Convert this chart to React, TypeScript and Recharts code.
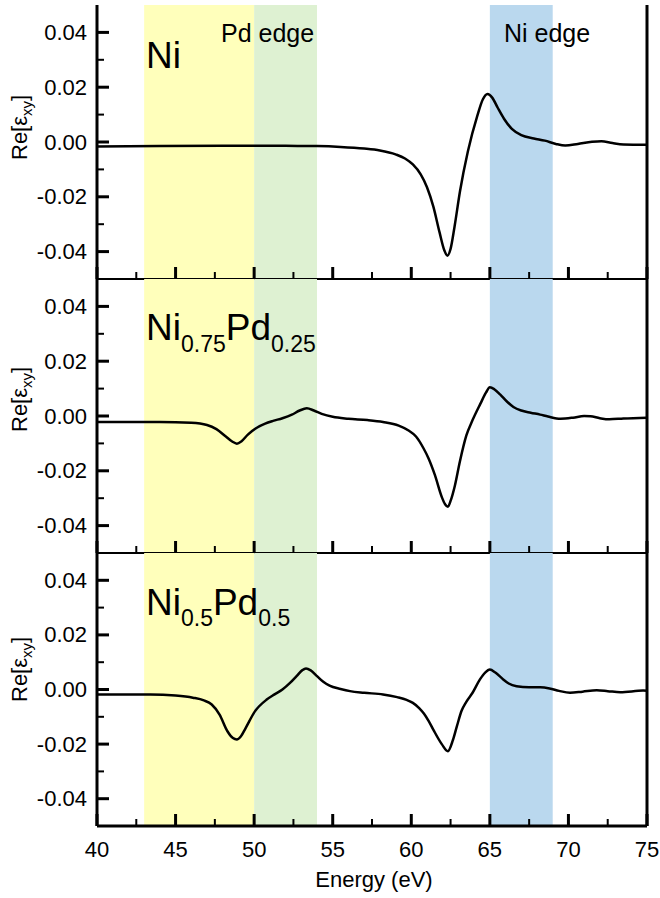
import { LineChart, Line, XAxis, YAxis, ReferenceArea } from 'recharts'

// Re[eps_xy] vs photon energy (eV)
const niPoints: [number, number][] = [
  [40, -0.0016], [44, -0.0015], [48, -0.0014], [52, -0.0014], [54, -0.0015], [55.5, -0.0018],
  [57, -0.0024], [58, -0.0031], [59, -0.0045], [59.6, -0.006], [60.1, -0.0082], [60.6, -0.0118],
  [61, -0.0165], [61.4, -0.0235], [61.8, -0.033], [62.1, -0.0395], [62.3, -0.0415], [62.5, -0.039],
  [62.75, -0.031], [63.1, -0.018], [63.6, -0.0035], [64.2, 0.0095], [64.55, 0.0155], [64.85, 0.0175],
  [65.15, 0.0162], [65.5, 0.0125], [65.9, 0.0085], [66.4, 0.0048], [67, 0.0025], [67.8, 0.0013],
  [68.5, 0.0005], [69.2, -0.0007], [69.8, -0.0013], [70.6, -0.0007], [71.5, 0.0001], [72.1, 0.0003],
  [72.8, -0.0004], [73.5, -0.0009], [75, -0.001],
]

const ni75Points: [number, number][] = [
  [40, -0.0022], [44, -0.0022], [46, -0.0025], [47, -0.0033], [47.6, -0.0048], [48.2, -0.0075],
  [48.6, -0.0093], [48.9, -0.0101], [49.2, -0.0092], [49.6, -0.0068], [50.2, -0.0042], [50.7, -0.0028],
  [51.2, -0.0018], [51.8, -0.0008], [52.4, 0.0005], [52.9, 0.002], [53.35, 0.0028], [53.8, 0.002],
  [54.3, 0.0008], [55, -0.0003], [56, -0.001], [57.2, -0.0015], [58.2, -0.0022], [59.2, -0.0035],
  [59.8, -0.0052], [60.3, -0.0075], [60.75, -0.0115], [61.1, -0.0155], [61.5, -0.0215], [61.95, -0.0297],
  [62.15, -0.0322], [62.33, -0.0331], [62.5, -0.031], [62.75, -0.026], [63.1, -0.0164], [63.5, -0.0072],
  [63.9, -0.0015], [64.4, 0.0045], [64.75, 0.0085], [65, 0.0105], [65.3, 0.0097], [65.65, 0.0079],
  [66.1, 0.0052], [66.5, 0.0033], [67, 0.002], [67.6, 0.0012], [68.2, 0.0005], [68.7, -0.0002],
  [69.5, -0.001], [70.3, -0.0006], [71, 0.0], [71.4, -0.0001], [72, -0.0008], [72.6, -0.0012],
  [73.5, -0.0009], [75, -0.0006],
]

const ni50Points: [number, number][] = [
  [40, -0.0018], [43.4, -0.0018], [45, -0.0022], [46.1, -0.003], [46.8, -0.004], [47.3, -0.0055],
  [47.8, -0.0092], [48.3, -0.0153], [48.65, -0.0178], [48.9, -0.0183], [49.15, -0.0172], [49.45, -0.0142],
  [50.05, -0.008], [50.8, -0.0037], [51.3, -0.0018], [51.8, 0.0], [52.3, 0.0025], [52.7, 0.0049],
  [53.05, 0.007], [53.3, 0.0077], [53.6, 0.007], [54, 0.0049], [54.4, 0.0028], [54.8, 0.0014],
  [55.5, 0.0002], [56.1, -0.0006], [57, -0.0012], [58.2, -0.0018], [59.1, -0.0028], [59.7, -0.0038],
  [60.1, -0.0049], [60.5, -0.0068], [60.8, -0.0088], [61.1, -0.0115], [61.4, -0.0147], [61.95, -0.0201],
  [62.33, -0.0226], [62.65, -0.0185], [62.9, -0.0135], [63.2, -0.0078], [63.5, -0.0045], [63.9, -0.0012],
  [64.37, 0.0037], [64.7, 0.0062], [65, 0.0073], [65.35, 0.0062], [65.85, 0.0037], [66.2, 0.0022],
  [66.7, 0.0012], [67.5, 0.0008], [68.2, 0.0008], [68.8, 0.0004], [69.4, -0.0005], [70.1, -0.0012],
  [70.9, -0.0008], [71.8, -0.0003], [72.5, -0.0006], [73.3, -0.001], [74.75, -0.0004], [75, -0.0005],
]

const xTicks = [40, 42.5, 45, 47.5, 50, 52.5, 55, 57.5, 60, 62.5, 65, 67.5, 70, 72.5, 75]
const yTicks = [-0.04, -0.03, -0.02, -0.01, 0, 0.01, 0.02, 0.03, 0.04]

// shaded edge regions [from, to, colour]
const bands: [number, number, string][] = [
  [43, 50, '#ffffbb'],
  [50, 54, '#def1d2'],
  [65, 69, '#bad8ee'],
]

const FONT = '"Liberation Sans", Arial, sans-serif'
const W = 660
const MAJOR = 12
const MINOR = 7

const isMajorX = (v: number) => v % 5 === 0
const isMajorY = (v: number) => Math.round(v * 100) % 2 === 0

const LeftTick = ({ x, y, payload }: any) => {
  const major = isMajorY(payload.value)
  return (
    <g>
      <line x1={x} x2={x + (major ? MAJOR : MINOR)} y1={y} y2={y} stroke="#000" strokeWidth={major ? 3 : 2} />
      {major && (
        <text x={x - 10} y={y + 7.5} textAnchor="end" fontSize={22} fontFamily={FONT} fill="#000">
          {payload.value.toFixed(2)}
        </text>
      )}
    </g>
  )
}

const RightTick = ({ x, y, payload }: any) => {
  const major = isMajorY(payload.value)
  return <line x1={x - (major ? MAJOR : MINOR)} x2={x} y1={y} y2={y} stroke="#000" strokeWidth={major ? 3 : 2} />
}

const TopTick = ({ x, y, payload }: any) => {
  const major = isMajorX(payload.value)
  return <line x1={x} x2={x} y1={y} y2={y + (major ? MAJOR : MINOR)} stroke="#000" strokeWidth={major ? 3 : 2} />
}

const makeBottomTick = (labels: boolean) => ({ x, y, payload }: any) => {
  const major = isMajorX(payload.value)
  return (
    <g>
      <line x1={x} x2={x} y1={y - (major ? MAJOR : MINOR)} y2={y} stroke="#000" strokeWidth={major ? 3 : 2} />
      {labels && major && (
        <text x={x} y={y + 31} textAnchor="middle" fontSize={22} fontFamily={FONT} fill="#000">
          {payload.value}
        </text>
      )}
    </g>
  )
}

type PanelProps = {
  points: [number, number][]
  plotTop: number
  plotBottom: number
  topAxis?: boolean
  labels?: boolean
}

function Panel({ points, plotTop, plotBottom, topAxis, labels }: PanelProps) {
  const data = points.map(([e, v]) => ({ e, v }))
  const xH = labels ? 60 : 10
  const h = plotBottom - plotTop + 5 + xH
  return (
    <div style={{ position: 'absolute', left: 0, top: plotTop - 5 }}>
      <LineChart width={W} height={h} data={data} margin={{ top: 5, right: 12, bottom: 0, left: 0 }}>
        {bands.map(([a, b, c]) => (
          <ReferenceArea key={a} x1={a} x2={b} fill={c} fillOpacity={1} stroke="none" ifOverflow="visible" />
        ))}
        <XAxis
          dataKey="e"
          type="number"
          domain={[40, 75]}
          ticks={xTicks}
          interval={0}
          height={xH}
          tickSize={0}
          tickMargin={0}
          tickLine={false}
          axisLine={{ stroke: '#000', strokeWidth: labels ? 3 : 2 }}
          tick={makeBottomTick(!!labels)}
        />
        {topAxis && (
          <XAxis
            xAxisId="top"
            orientation="top"
            dataKey="e"
            type="number"
            domain={[40, 75]}
            ticks={xTicks}
            interval={0}
            height={0}
            tickSize={0}
            tickMargin={0}
            tickLine={false}
            axisLine={{ stroke: '#000', strokeWidth: 3 }}
            tick={<TopTick />}
          />
        )}
        <YAxis
          type="number"
          domain={[-0.05, 0.05]}
          ticks={yTicks}
          interval={0}
          width={97}
          tickSize={0}
          tickMargin={0}
          tickLine={false}
          axisLine={{ stroke: '#000', strokeWidth: 3 }}
          tick={<LeftTick />}
        />
        <YAxis
          yAxisId="r"
          orientation="right"
          type="number"
          domain={[-0.05, 0.05]}
          ticks={yTicks}
          interval={0}
          width={1}
          tickSize={0}
          tickMargin={0}
          tickLine={false}
          axisLine={{ stroke: '#000', strokeWidth: 3 }}
          tick={<RightTick />}
        />
        <Line
          dataKey="v"
          type="monotone"
          stroke="#000"
          strokeWidth={2.5}
          dot={false}
          isAnimationActive={false}
        />
      </LineChart>
    </div>
  )
}

const YTitle = ({ y }: { y: number }) => (
  <text x={27} y={y} transform={`rotate(-90, 27, ${y})`} fontSize={22} fontFamily={FONT} fill="#000">
    Re[ε
    <tspan dy={5} fontSize={15}>xy</tspan>
    <tspan dy={-5}>]</tspan>
  </text>
)

export default function App() {
  return (
    <div style={{ position: 'absolute', left: 0, top: 0, width: W, height: 898, background: '#fff' }}>
      <Panel points={niPoints} plotTop={5} plotBottom={279} topAxis />
      <Panel points={ni75Points} plotTop={279} plotBottom={553} />
      <Panel points={ni50Points} plotTop={553} plotBottom={826} labels />
      <svg
        width={W}
        height={898}
        style={{ position: 'absolute', left: 0, top: 0, pointerEvents: 'none' }}
      >
        <g fontFamily={FONT} fill="#000">
          <text x={221} y={42} fontSize={25}>Pd edge</text>
          <text x={504} y={42} fontSize={25}>Ni edge</text>
          <text x={146} y={68} fontSize={37}>Ni</text>
          <text x={146} y={340} fontSize={37}>
            Ni<tspan dy={12} fontSize={23}>0.75</tspan>
            <tspan dy={-12}>Pd</tspan>
            <tspan dy={12} fontSize={23}>0.25</tspan>
          </text>
          <text x={146} y={615} fontSize={37}>
            Ni<tspan dy={11} fontSize={23}>0.5</tspan>
            <tspan dy={-11}>Pd</tspan>
            <tspan dy={11} fontSize={23}>0.5</tspan>
          </text>
          <text x={374} y={887} fontSize={22} textAnchor="middle">Energy (eV)</text>
        </g>
        <YTitle y={160} />
        <YTitle y={432} />
        <YTitle y={702} />
      </svg>
    </div>
  )
}
